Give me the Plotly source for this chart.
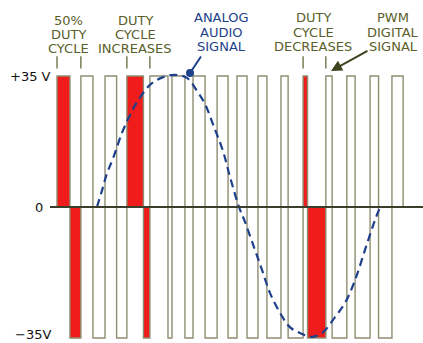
import plotly.graph_objects as go

# ---------------- data (time in PWM periods, voltage in volts) ----------------
V_RAIL = 35
rise_t = [0, 1.07, 2.15, 3.13, 4.16, 5.15, 6.09, 7.17, 8.06, 9.00, 10.03, 11.02, 12.04, 12.98, 14.02, 15.00]
fall_t = [0.58, 1.61, 2.67, 3.87, 4.97, 5.73, 6.63, 7.66, 8.51, 9.40, 10.35, 11.22, 12.32, 13.35, 14.40, 15.50]
highlight_periods = [0, 3, 11]          # 50% duty, duty increases, duty decreases

audio_t = [1.79, 2.02, 2.24, 2.51, 2.91, 3.27, 3.58, 4.16, 4.75, 5.28, 5.82, 6.27, 6.63, 6.99, 7.43, 7.75,
           8.15, 8.42, 8.82, 9.18, 9.54, 9.99, 10.43, 10.97, 11.42, 11.87, 12.45, 12.90, 13.35, 13.79, 14.24, 14.47]
audio_v = [0, 4.5, 9.0, 13.0, 19.8, 24.6, 28.0, 32.6, 34.7, 35.3, 34.5, 31.0, 27.5, 22.0, 15.0, 8.0,
           0, -4.0, -10.7, -16.8, -23.0, -28.3, -32.1, -33.9, -34.7, -33.7, -29.4, -25.6, -19.5, -11.5, -3.5, 0]

ytick_vals = [35, 0, -35]
ytick_text = ["+35 V", "0", "\u221235V"]

# ---------------- colours ----------------
RED = "#f01c1c"
OUTLINE = "#8e8e72"
OLIVE = "#5a5e2a"
BLUE = "#1e3f8a"
ZERO = "#3c3e2c"

W, H = 423, 343
X0PX, PERPX = 57.0, 22.33
ZPX, VPX = 207.0, 3.743
xr = [-X0PX / PERPX, (W - X0PX) / PERPX]
yr = [-(H - ZPX) / VPX, ZPX / VPX]

fig = go.Figure()

# red filled portions
fx, fy = [], []
for i in highlight_periods:
    fx += [rise_t[i], rise_t[i], fall_t[i], fall_t[i], None]
    fy += [0, V_RAIL, V_RAIL, 0, None]
    fx += [fall_t[i], fall_t[i], rise_t[i + 1], rise_t[i + 1], None]
    fy += [0, -V_RAIL, -V_RAIL, 0, None]
fig.add_trace(go.Scatter(x=fx, y=fy, mode="lines", fill="toself", fillcolor=RED,
                         line=dict(width=0, color=RED), hoverinfo="skip", showlegend=False))

# PWM outline
px_, py_ = [rise_t[0]], [0]
for i in range(len(rise_t)):
    px_ += [rise_t[i], fall_t[i], fall_t[i]]
    py_ += [V_RAIL, V_RAIL, -V_RAIL if i < len(rise_t) - 1 else 0]
    if i < len(rise_t) - 1:
        px_ += [rise_t[i + 1]]
        py_ += [-V_RAIL]
fig.add_trace(go.Scatter(x=px_, y=py_, mode="lines", line=dict(color=OUTLINE, width=1.4),
                         hoverinfo="skip", showlegend=False))

# analog audio signal
fig.add_trace(go.Scatter(x=audio_t, y=audio_v, mode="lines",
                         line=dict(color=BLUE, width=2.2, dash="8px,5px", shape="spline", smoothing=1),
                         hoverinfo="skip", showlegend=False))

shapes = []
# zero line
shapes.append(dict(type="line", xref="paper", yref="y", x0=50 / W, x1=1, y0=0, y1=0,
                   line=dict(color=ZERO, width=1.8), layer="above"))
# small bracket ticks under labels
for i in highlight_periods:
    for j in (i, i + 1):
        shapes.append(dict(type="line", xref="x", yref="y", x0=rise_t[j], x1=rise_t[j],
                           y0=37.0, y1=40.3, line=dict(color=OLIVE, width=1.2)))


def P(x, y):
    return x / W, 1 - y / H


annotations = []


def label(lines, cx, ys, color, size=13):
    for t, y in zip(lines, ys):
        ax_, ay_ = P(cx, y)
        annotations.append(dict(text=t, x=ax_, y=ay_, xref="paper", yref="paper", showarrow=False,
                                xanchor="center", yanchor="middle",
                                font=dict(family="DejaVu Sans", size=size, color=color)))


label(["50%", "DUTY", "CYCLE"], 68, [21, 34, 49], OLIVE)
label(["DUTY", "CYCLE", "INCREASES"], 135, [21, 34, 49], OLIVE)
label(["ANALOG", "AUDIO", "SIGNAL"], 221, [17, 32, 47], BLUE)
label(["DUTY", "CYCLE", "DECREASES"], 313, [17, 32, 47], OLIVE)
label(["PWM", "DIGITAL", "SIGNAL"], 393, [17, 32, 47], OLIVE)

# y labels
for v, t, cx, sh in zip(ytick_vals, ytick_text, [30, 39, 33], [0, 0, 4]):
    annotations.append(dict(text=t, x=cx / W, y=v, xref="paper", yref="y", showarrow=False,
                            xanchor="center", yanchor="middle", yshift=sh,
                            font=dict(family="DejaVu Sans", size=13, color="#111111")))

# pointers
hx, hy = P(190, 73)
annotations.append(dict(text="", x=hx, y=hy, xref="paper", yref="paper", showarrow=True,
                        ax=12, ay=-18, arrowhead=6, arrowsize=1, arrowwidth=2, arrowcolor=BLUE,
                        standoff=0))
hx, hy = P(331, 71)
annotations.append(dict(text="", x=hx, y=hy, xref="paper", yref="paper", showarrow=True,
                        ax=38, ay=-21, arrowhead=2, arrowsize=1.1, arrowwidth=2, arrowcolor="#3e4320",
                        standoff=0))

fig.update_layout(width=W, height=H, margin=dict(l=0, r=0, t=0, b=0),
                  paper_bgcolor="white", plot_bgcolor="white",
                  xaxis=dict(visible=False, range=xr, fixedrange=True),
                  yaxis=dict(visible=False, range=yr, fixedrange=True),
                  shapes=shapes, annotations=annotations, showlegend=False)

fig.write_html("out.html", config={"displayModeBar": False},
               post_script="document.body.style.margin='0';document.body.style.padding='0';")
